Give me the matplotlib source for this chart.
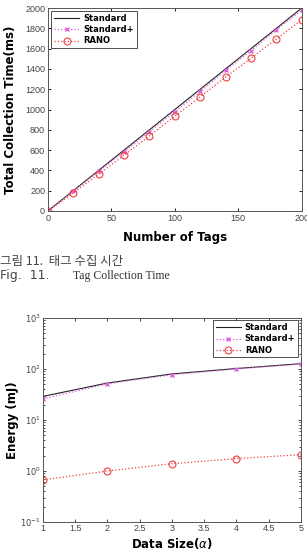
import matplotlib.pyplot as plt
from matplotlib.ticker import LogLocator, NullFormatter

# data: tag collection time
tags = [0, 20, 40, 60, 80, 100, 120, 140, 160, 180, 200]
time_standard = [0, 200, 400, 600, 800, 1000, 1200, 1400, 1600, 1800, 2000]
time_standard_plus = [0, 195, 390, 585, 780, 978, 1178, 1385, 1580, 1785, 1980]
time_rano = [0, 178, 362, 549, 740, 935, 1125, 1320, 1505, 1695, 1885]

# data: energy vs data size
data_size = [1, 2, 3, 4, 5]
energy_standard = [29, 53, 80, 102, 127]
energy_standard_plus = [26, 51, 77, 100, 125]
energy_rano = [0.67, 1.0, 1.39, 1.75, 2.09]

plt.rcParams["font.family"] = ["DejaVu Sans"]
tick_font = {"family": "Liberation Sans", "size": 6.5, "color": "#444444"}
leg_kw = dict(prop={"weight": "bold", "size": 6}, fancybox=False, edgecolor="#222222",
              handlelength=3.0, handletextpad=0.5, labelspacing=0.25, borderpad=0.35)

fig = plt.figure(figsize=(3.07, 5.5), dpi=100)

# chart 1
ax1 = fig.add_axes([0.156, 0.6164, 0.827, 0.369])
ax1.plot(tags, time_standard, color="#222222", linewidth=0.8, label="Standard")
ax1.plot(tags, time_standard_plus, color="#e060e0", linestyle=":", linewidth=0.9,
         marker="x", markersize=3, label="Standard+")
ax1.plot(tags, time_rano, color="#f04040", linestyle=":", linewidth=0.9,
         marker="o", markersize=5, markerfacecolor="none", markeredgewidth=0.8,
         label="RANO")
ax1.set_xlim(0, 200)
ax1.set_ylim(0, 2000)
ax1.set_xticks([0, 50, 100, 150, 200])
ax1.set_yticks(range(0, 2001, 200))
ax1.set_xticklabels([str(v) for v in [0, 50, 100, 150, 200]], **tick_font)
ax1.set_yticklabels([str(v) for v in range(0, 2001, 200)], **tick_font)
ax1.tick_params(direction="in", length=2.5, width=0.6, pad=2, top=True, right=True)
ax1.set_xlabel("Number of Tags", fontsize=8.5, fontweight="bold", labelpad=6)
ax1.set_ylabel("Total Collection Time(ms)", fontsize=8.5, fontweight="bold", labelpad=6)
leg1 = ax1.legend(loc="upper left", borderaxespad=0.4, **leg_kw)
leg1.get_frame().set_linewidth(0.7)
for s in ax1.spines.values():
    s.set_linewidth(0.7)
    s.set_color("#555555")

# captions
fig.text(0.0, 1 - 261 / 550, "그림 11.  태그 수집 시간", fontsize=9,
         family=["Noto Sans CJK KR", "DejaVu Sans"], color="#444444", va="center")
fig.text(0.0, 1 - 276 / 550, "Fig.  11.", fontsize=9, family="DejaVu Sans",
         color="#444444", va="center")
fig.text(0.238, 1 - 276 / 550, "Tag Collection Time", fontsize=8.5,
         family="Liberation Serif", color="#333333", va="center")

# chart 2
ax2 = fig.add_axes([0.140, 0.0509, 0.840, 0.371])
ax2.plot(data_size, energy_standard, color="#222222", linewidth=0.8, label="Standard")
ax2.plot(data_size, energy_standard_plus, color="#e060e0", linestyle=":", linewidth=0.9,
         marker="x", markersize=3, label="Standard+")
ax2.plot(data_size, energy_rano, color="#f04040", linestyle=":", linewidth=0.9,
         marker="o", markersize=5, markerfacecolor="none", markeredgewidth=0.8,
         label="RANO")
ax2.set_yscale("log")
ax2.set_xlim(1, 5)
ax2.set_ylim(0.1, 1000)
xt = [1, 1.5, 2, 2.5, 3, 3.5, 4, 4.5, 5]
ax2.set_xticks(xt)
ax2.set_xticklabels([f"{v:g}" for v in xt], **tick_font)
ax2.set_yticks([0.1, 1, 10, 100, 1000])
ax2.set_yticklabels([r"$10^{-1}$", r"$10^{0}$", r"$10^{1}$", r"$10^{2}$", r"$10^{3}$"],
                    family="Liberation Sans", size=6, color="#444444")
ax2.yaxis.set_minor_locator(LogLocator(base=10, subs=range(2, 10)))
ax2.yaxis.set_minor_formatter(NullFormatter())
ax2.tick_params(which="both", direction="in", width=0.5, pad=1.5, top=True, right=True)
ax2.tick_params(which="major", length=2.5)
ax2.tick_params(which="minor", length=1.5)
ax2.set_xlabel(r"Data Size($\alpha$)", fontsize=8.5, fontweight="bold", labelpad=2)
ax2.set_ylabel("Energy (mJ)", fontsize=8.5, fontweight="bold", labelpad=1)
leg2 = ax2.legend(loc="upper right", borderaxespad=0.3, **leg_kw)
leg2.get_frame().set_linewidth(0.7)
for s in ax2.spines.values():
    s.set_linewidth(0.7)
    s.set_color("#555555")

plt.savefig("out.png", dpi=100)
plt.close()
